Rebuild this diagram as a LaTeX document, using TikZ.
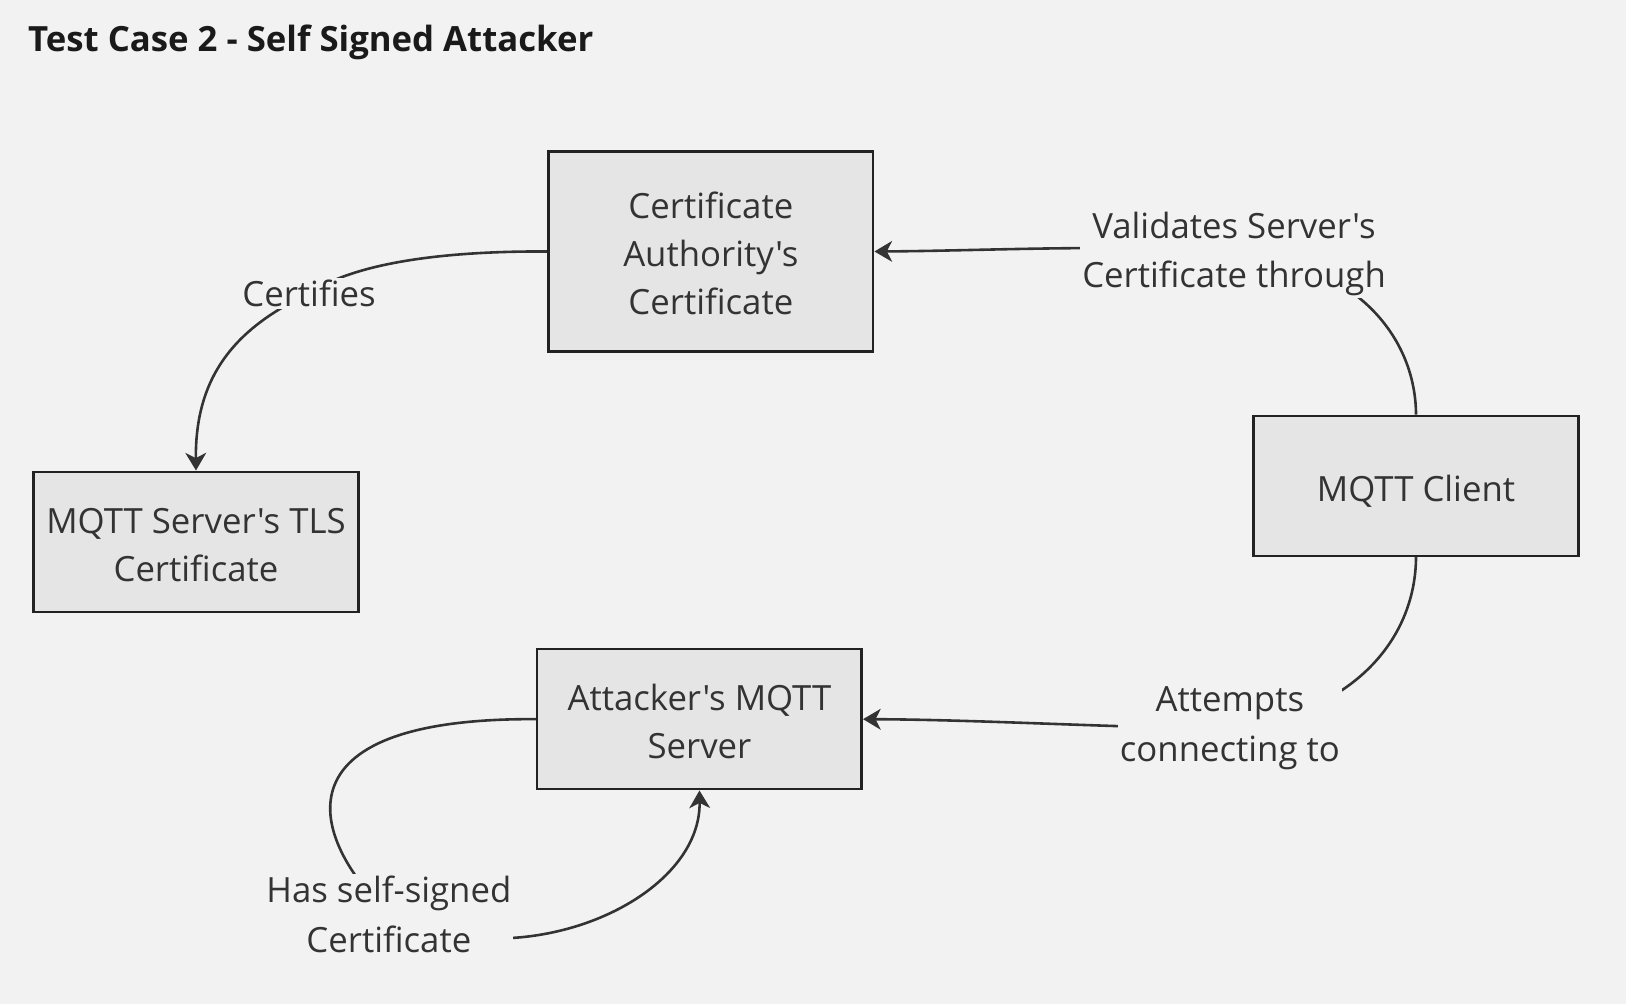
\documentclass[tikz,border=0pt]{standalone}
\usepackage{fontspec}
\setmainfont{Open Sans}[Ligatures=TeXOff]
\usetikzlibrary{arrows.meta}
\definecolor{bgc}{HTML}{F2F2F2}
\definecolor{boxfill}{HTML}{E5E5E5}
\definecolor{boxline}{HTML}{222222}
\definecolor{edgec}{HTML}{333333}
\definecolor{txt}{HTML}{333333}
\definecolor{titlec}{HTML}{1A1A1A}
\pgfdeclarelayer{back}
\pgfdeclarelayer{edges}
\pgfsetlayers{back,edges,main}
\tikzset{
  box/.style={draw=boxline, fill=boxfill, line width=2.5pt, minimum width=313pt, inner sep=0pt},
  boxtext/.style={align=center, text=txt, font=\fontsize{33.5}{46.5}\selectfont, inner sep=0pt},
  elabel/.style={fill=bgc, align=center, text=txt, font=\fontsize{33.5}{48}\selectfont, inner sep=2pt},
  conn/.style={draw=edgec, line width=2.5pt, -{Stealth[length=17pt, width=20pt, inset=5pt]}},
}
\begin{document}
\begin{tikzpicture}[x=1pt, y=-1pt]
\begin{pgfonlayer}{back}
\fill[bgc] (0,0) rectangle (1568,968);
\end{pgfonlayer}
\useasboundingbox (0,0) rectangle (1568,968);
\node[anchor=base west, text=titlec, font=\fontsize{33.5}{40}\selectfont\bfseries, inner sep=0pt] (title) at (27,50) {Test Case 2 - Self Signed Attacker};
\node[box, minimum height=193pt, label={[boxtext, yshift=-2pt]center:{Certificate\\Authority's\\Certificate}}] (ca) at (685.5,242.5) {};
\node[box, minimum height=135pt, label={[boxtext, yshift=-3pt]center:{MQTT Server's TLS\\Certificate}}] (tls) at (189,522.5) {};
\node[box, minimum height=135pt, label={[boxtext, yshift=-5pt]center:{MQTT Client}}] (client) at (1365.5,468.5) {};
\node[box, minimum height=135pt, label={[boxtext, yshift=-2pt]center:{Attacker's MQTT\\Server}}] (att) at (674.5,693.5) {};
\node[elabel] (l1) at (298,283) {Certifies};
\node[elabel] (l2) at (1190,245) {Validates Server's\\Certificate through};
\node[elabel] (l3) at (1186,702) {Attempts\\connecting to};
\node[elabel] (l4) at (375,881.5) {Has self-signed\\Certificate};
\begin{pgfonlayer}{edges}
\draw[conn] (ca.west) .. controls (420,242) and (340,255) .. (l1.center) .. controls (230,315) and (188,360) .. (tls.north);
\draw[conn] (client.north) .. controls (1365,320) and (1300,250) .. (l2.center) .. controls (1100,234) and (950,242) .. (ca.east);
\draw[conn] (client.south) .. controls (1365,620) and (1300,690) .. (l3.center) .. controls (1100,703) and (950,694) .. (att.east);
\draw[conn] (att.west) .. controls (260,692) and (300,810) .. (l4.center) .. controls (500,945) and (676,870) .. (att.south);
\end{pgfonlayer}
\end{tikzpicture}
\end{document}
